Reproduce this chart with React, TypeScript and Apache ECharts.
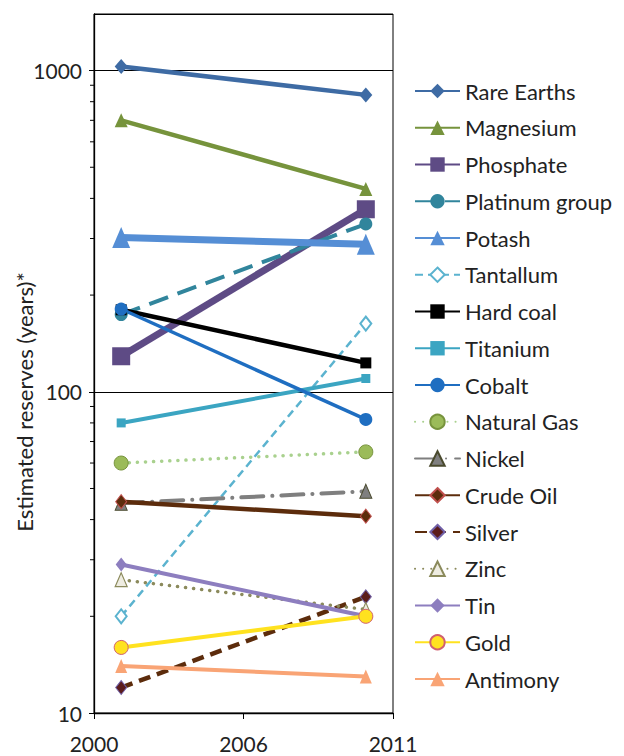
import React, { useEffect, useRef } from "react";
import * as echarts from "echarts";

// ---- data ----
const baseYear = 2000;
const years = [2001, 2010];
const xTickLabels = ["2000", "2006", "2011"];
const yMin = 10;
const yMax = 1500;
const minorTickValues = [20, 30, 40, 50, 60, 70, 80, 90, 200, 300, 400, 500, 600, 700, 800, 900];

const rareEarths = [1030, 840];
const magnesium = [700, 428];
const phosphate = [129, 370];
const platinumGroup = [174, 333];
const potash = [302, 288];
const tantallum = [20, 163];
const hardCoal = [180, 123];
const titanium = [80, 110];
const cobalt = [181, 82];
const naturalGas = [60, 65];
const nickel = [45, 49];
const crudeOil = [45.5, 41];
const silver = [12, 23];
const zinc = [26, 21];
const tin = [29, 20];
const gold = [16, 20];
const antimony = [14, 13];

const FONT = 'Lato, "Noto Sans", sans-serif';
const TEXT = "#222222";

type Spec = {
  name: string;
  values: number[];
  color: string;
  width: number;
  dash?: any;
  cap?: string;
  symbol: string;
  size: any;
  fill?: string;
  border?: string;
  borderWidth?: number;
};

const specs: Spec[] = [
  { name: "Rare Earths", values: rareEarths, color: "#3E6BA4", width: 4.5, symbol: "diamond", size: [13, 15] },
  { name: "Magnesium", values: magnesium, color: "#76933C", width: 4.5, symbol: "triangle", size: [13, 14] },
  { name: "Phosphate", values: phosphate, color: "#5E4B85", width: 7, symbol: "rect", size: 18 },
  { name: "Platinum group", values: platinumGroup, color: "#31859C", width: 4, dash: [20, 10], symbol: "circle", size: 13 },
  { name: "Potash", values: potash, color: "#558ED5", width: 7, symbol: "triangle", size: [18, 21] },
  { name: "Tantallum", values: tantallum, color: "#5BB3CF", width: 2.5, dash: [8, 5], symbol: "diamond", size: [11, 14], fill: "#FFFFFF", border: "#5BB3CF", borderWidth: 2 },
  { name: "Hard coal", values: hardCoal, color: "#000000", width: 4.5, symbol: "rect", size: 11 },
  { name: "Titanium", values: titanium, color: "#3BA5C2", width: 4, symbol: "rect", size: 9 },
  { name: "Cobalt", values: cobalt, color: "#1F6EC1", width: 3.5, symbol: "circle", size: 13 },
  { name: "Natural Gas", values: naturalGas, color: "#A9D18E", width: 3.5, dash: [0.1, 8], cap: "round", symbol: "circle", size: 14, fill: "#9BBB59", border: "#77933C", borderWidth: 1 },
  { name: "Nickel", values: nickel, color: "#7F7F7F", width: 4, dash: [22, 9, 0.1, 9], cap: "round", symbol: "triangle", size: [12, 14], fill: "#7F7F7F", border: "#4A4A2E", borderWidth: 1 },
  { name: "Crude Oil", values: crudeOil, color: "#5C2C0C", width: 4.5, symbol: "diamond", size: [11, 14], fill: "#5C2C0C", border: "#C0504D", borderWidth: 1 },
  { name: "Silver", values: silver, color: "#5C2C0C", width: 4.5, dash: [12, 7], symbol: "diamond", size: [11, 14], fill: "#5B1C1C", border: "#7060A8", borderWidth: 1 },
  { name: "Zinc", values: zinc, color: "#8B8A5C", width: 3.5, dash: [0.1, 8], cap: "round", symbol: "triangle", size: [12, 14], fill: "#EEECE1", border: "#8B8A5C", borderWidth: 1.2 },
  { name: "Tin", values: tin, color: "#8D7EBF", width: 4, symbol: "diamond", size: [11, 14] },
  { name: "Gold", values: gold, color: "#FFE21F", width: 4, symbol: "circle", size: 14, fill: "#FFE21F", border: "#D06070", borderWidth: 1 },
  { name: "Antimony", values: antimony, color: "#F9A475", width: 4, symbol: "triangle", size: [12, 14] },
];

export default function App() {
  const ref = useRef<HTMLDivElement>(null);

  useEffect(() => {
    if (!ref.current) return;
    const chart = echarts.init(ref.current, null, { renderer: "svg" });

    const lineSeries = specs.map((s) => ({
      name: s.name,
      type: "line",
      data: years.map((y, i) => [y - baseYear, s.values[i]]),
      symbol: s.symbol,
      symbolSize: s.size,
      showSymbol: true,
      clip: false,
      lineStyle: {
        color: s.color,
        width: s.width,
        type: s.dash || "solid",
        cap: s.cap || "butt",
      },
      itemStyle: {
        color: s.fill || s.color,
        borderColor: s.border || s.fill || s.color,
        borderWidth: s.borderWidth || 0,
        opacity: 1,
      },
      emphasis: { disabled: true },
      z: 3,
    }));

    const minorTicks = {
      type: "custom",
      name: "minorTicks",
      data: minorTickValues.map((v) => [0, v]),
      silent: true,
      clip: false,
      z: 5,
      renderItem: (params: any, api: any) => {
        const p = api.coord([api.value(0), api.value(1)]);
        return {
          type: "line",
          shape: { x1: p[0] - 4, y1: p[1], x2: p[0], y2: p[1] },
          style: { stroke: "#000000", lineWidth: 1 },
        };
      },
    };

    chart.setOption({
      animation: false,
      backgroundColor: "#FFFFFF",
      grid: {
        left: 94,
        right: 231,
        top: 14,
        bottom: 43,
        show: true,
        borderColor: "#000000",
        borderWidth: 1,
        backgroundColor: "transparent",
      },
      xAxis: {
        type: "value",
        min: 0,
        max: 11,
        interval: 5.5,
        axisLine: { show: true, onZero: false, lineStyle: { color: "#000000", width: 1.3 } },
        axisTick: { show: true, inside: false, length: 6, lineStyle: { color: "#000000", width: 1 } },
        axisLabel: {
          show: true,
          margin: 20,
          fontSize: 21,
          fontFamily: FONT,
          color: TEXT,
          showMinLabel: true,
          showMaxLabel: true,
          formatter: (v: number) => xTickLabels[Math.round(v / 5.5)] ?? "",
        },
        splitLine: { show: false },
      },
      yAxis: {
        type: "log",
        logBase: 10,
        min: yMin,
        max: yMax,
        axisLine: { show: true, lineStyle: { color: "#000000", width: 1.3 } },
        axisTick: { show: true, inside: false, length: 5, lineStyle: { color: "#000000", width: 1 } },
        axisLabel: {
          show: true,
          margin: 12,
          fontSize: 21,
          fontFamily: FONT,
          color: TEXT,
          showMaxLabel: false,
          formatter: (v: number) => String(Math.round(v)),
        },
        splitLine: { show: true, lineStyle: { color: "#000000", width: 1 } },
      },
      legend: {
        orient: "vertical",
        left: 414,
        top: 80,
        padding: 0,
        itemWidth: 45,
        itemHeight: 18,
        itemGap: 14.75,
        data: specs.map((s) => s.name),
        selectedMode: false,
        textStyle: { fontSize: 22, fontFamily: FONT, color: TEXT },
      },
      graphic: [
        {
          type: "text",
          x: 24,
          y: 402,
          rotation: Math.PI / 2,
          style: {
            text: "Estimated reserves (years)*",
            fontSize: 22,
            fontFamily: FONT,
            fill: TEXT,
            textAlign: "center",
            textVerticalAlign: "middle",
          },
        },
      ],
      series: [...lineSeries, minorTicks],
    });

    return () => chart.dispose();
  }, []);

  return (
    <div
      ref={ref}
      style={{ position: "fixed", left: 0, top: 0, width: 624, height: 756 }}
    />
  );
}
